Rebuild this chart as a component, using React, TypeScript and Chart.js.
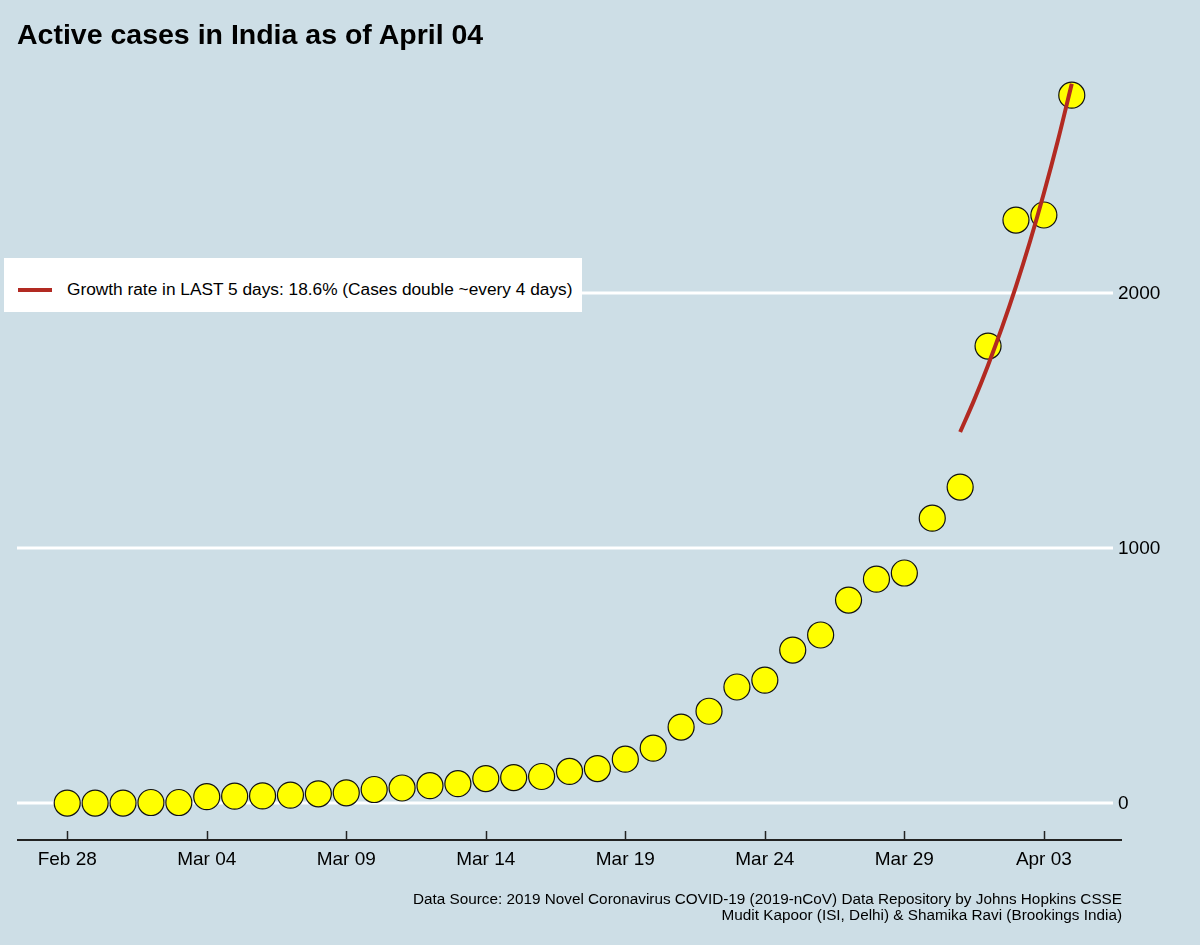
import React, { useEffect, useRef } from 'react';
import { Chart, registerables } from 'chart.js';

Chart.register(...registerables);

// ---- data ----
const tickDays = [0, 5, 10, 15, 20, 25, 30, 35];
const tickLabels = ['Feb 28', 'Mar 04', 'Mar 09', 'Mar 14', 'Mar 19', 'Mar 24', 'Mar 29', 'Apr 03'];
// day index 0 = Feb 28 ... 36 = Apr 04
const activeCases = [
  0, 0, 0, 2, 2,
  25, 27, 28, 31, 36,
  40, 53, 59, 68, 76,
  96, 100, 104, 124, 135,
  172, 215, 298, 360, 455,
  482, 600, 659, 796, 878,
  902, 1117, 1239, 1792, 2286,
  2306, 2776,
];
const fitDays = [32, 32.5, 33, 33.5, 34, 34.5, 35, 35.5, 36];
const fitCases = [1455, 1580, 1717, 1865, 2026, 2201, 2391, 2597, 2821];
const yTicks = [0, 1000, 2000];

const FONT = '"Liberation Sans", Arial, sans-serif';
const BG = '#cddee6';

const decor = {
  id: 'decor',
  beforeDatasetsDraw(chart: any) {
    const { ctx, chartArea, scales } = chart;
    const x = scales.x;
    const y = scales.y;
    ctx.save();
    // gridlines
    ctx.strokeStyle = '#ffffff';
    ctx.lineWidth = 3;
    yTicks.forEach((v) => {
      const py = y.getPixelForValue(v);
      ctx.beginPath();
      ctx.moveTo(chartArea.left, py);
      ctx.lineTo(chartArea.right - 9, py);
      ctx.stroke();
    });
    // y labels
    ctx.fillStyle = '#000';
    ctx.font = '19px ' + FONT;
    ctx.textAlign = 'left';
    ctx.textBaseline = 'middle';
    yTicks.forEach((v) => {
      const py = y.getPixelForValue(v);
      ctx.fillText(String(v), chartArea.right - 4, py + 1);
    });
    // x axis line
    ctx.strokeStyle = '#222';
    ctx.lineWidth = 2;
    ctx.beginPath();
    ctx.moveTo(chartArea.left, chartArea.bottom);
    ctx.lineTo(chartArea.right, chartArea.bottom);
    ctx.stroke();
    // ticks (inward)
    ctx.lineWidth = 1.5;
    tickDays.forEach((d) => {
      const px = Math.round(x.getPixelForValue(d)) + 0.5;
      ctx.beginPath();
      ctx.moveTo(px, chartArea.bottom);
      ctx.lineTo(px, chartArea.bottom - 9);
      ctx.stroke();
    });
    ctx.restore();
  },
};

export default function App() {
  const ref = useRef<HTMLCanvasElement | null>(null);
  useEffect(() => {
    if (!ref.current) return;
    const chart = new Chart(ref.current, {
      type: 'line',
      data: {
        datasets: [
          {
            label: 'fit',
            data: fitDays.map((d, i) => ({ x: d, y: fitCases[i] })),
            borderColor: '#b22a22',
            borderWidth: 4,
            pointRadius: 0,
            cubicInterpolationMode: 'monotone',
            fill: false,
          },
          {
            label: 'Active cases',
            data: activeCases.map((v, i) => ({ x: i, y: v })),
            showLine: false,
            pointRadius: 13,
            pointBackgroundColor: '#ffff00',
            pointBorderColor: '#111',
            pointBorderWidth: 1.2,
          },
        ],
      },
      options: {
        responsive: false,
        animation: false,
        events: [],
        layout: { padding: { left: 17, right: 78, top: 49, bottom: 45 } },
        plugins: { legend: { display: false }, tooltip: { enabled: false }, title: { display: false } },
        scales: {
          x: {
            type: 'linear',
            min: -1.8,
            max: 37.8,
            grid: { display: false, drawTicks: false },
            border: { display: false },
            afterBuildTicks: (s: any) => {
              s.ticks = tickDays.map((d) => ({ value: d }));
            },
            afterFit: (s: any) => {
              s.height = 60;
            },
            ticks: {
              padding: 8,
              color: '#000',
              font: { family: FONT, size: 19 },
              maxRotation: 0,
              autoSkip: false,
              callback: (v: any) => {
                const i = tickDays.indexOf(Number(v));
                return i >= 0 ? tickLabels[i] : '';
              },
            },
          },
          y: {
            type: 'linear',
            display: false,
            min: -145,
            max: 2957,
          },
        },
      },
      plugins: [decor],
    } as any);
    return () => chart.destroy();
  }, []);

  return (
    <div style={{ position: 'fixed', left: 0, top: 0, width: 1200, height: 945, background: BG, fontFamily: FONT, overflow: 'hidden' }}>
      <canvas ref={ref} width={1200} height={945} style={{ position: 'absolute', left: 0, top: 0, width: 1200, height: 945 }} />
      <div style={{ position: 'absolute', left: 17, top: 19.9, fontSize: '28.5px', fontWeight: 'bold', lineHeight: '28.5px', color: '#000', whiteSpace: 'nowrap' }}>
        Active cases in India as of April 04
      </div>
      <div style={{ position: 'absolute', left: 4, top: 258, width: 578, height: 54, background: '#fff' }}>
        <div style={{ position: 'absolute', left: 14, top: 30, width: 34, height: 4, background: '#b22a22' }} />
        <div style={{ position: 'absolute', left: 63, top: 23.4, fontSize: '17.3px', lineHeight: '17.3px', color: '#000', whiteSpace: 'nowrap' }}>
          Growth rate in LAST 5 days: 18.6% (Cases double ~every 4 days)
        </div>
      </div>
      <div style={{ position: 'absolute', right: 78, top: 891.2, fontSize: '15.3px', lineHeight: '16px', color: '#000', textAlign: 'right', whiteSpace: 'nowrap' }}>
        <div>Data Source: 2019 Novel Coronavirus COVID-19 (2019-nCoV) Data Repository by Johns Hopkins CSSE</div>
        <div>Mudit Kapoor (ISI, Delhi) &amp; Shamika Ravi (Brookings India)</div>
      </div>
    </div>
  );
}
